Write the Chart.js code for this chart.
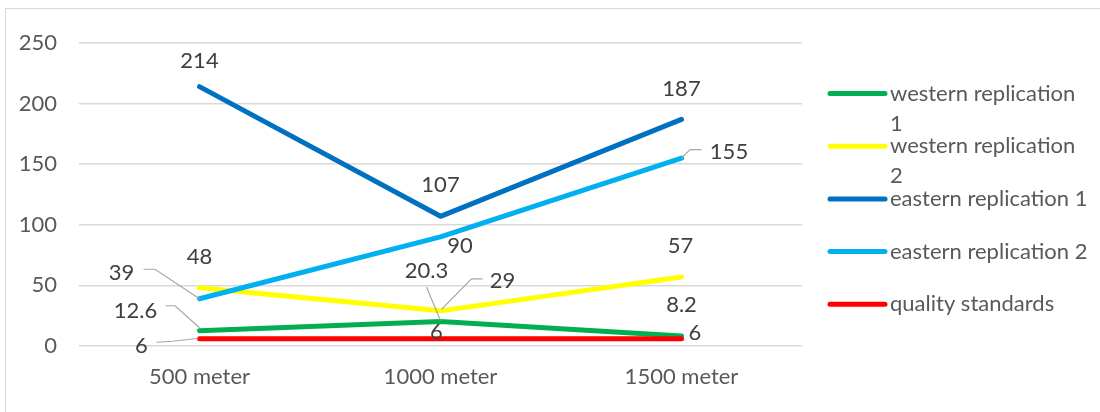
<!DOCTYPE html>
<html>
<head>
<meta charset="utf-8">
<title>Measurements by distance</title>
<script src="https://cdn.jsdelivr.net/npm/chart.js@4"></script>
<style>
  html, body { margin: 0; padding: 0; background: #ffffff; }
  #wrap { width: 1100px; height: 412px; }
</style>
</head>
<body>
<div id="wrap"><canvas id="chart" width="1100" height="412"></canvas></div>
<script>
// ---- data ----
const categories = ['500 meter', '1000 meter', '1500 meter'];
const seriesNames = [
  'western replication 1',
  'western replication 2',
  'eastern replication 1',
  'eastern replication 2',
  'quality standards'
];
const westernRep1 = [12.6, 20.3, 8.2];
const westernRep2 = [48, 29, 57];
const easternRep1 = [214, 107, 187];
const easternRep2 = [39, 90, 155];
const qualityStandards = [6, 6, 6];
const yTicks = [0, 50, 100, 150, 200, 250];

// ---- styling ----
const FONT = 'Lato, "Open Sans", "Liberation Sans", sans-serif';
const FONT_SIZE = 22;
const AXIS_TEXT = '#595959';
const LABEL_TEXT = '#404040';
const GRID = '#d9d9d9';
const LEADER = '#a6a6a6';
const seriesColors = ['#00b050', '#ffff00', '#0070c0', '#00b0f0', '#ff0000'];

// Data label placement per series/point: [dx, dy] from the point to the label
// centre, plus an optional leader polyline (offsets relative to the point).
const labelLayout = [
  [ { d: [-64, -21], leader: [[-34, -25], [-24.5, -25], [0, -3]] },
    { d: [-14, -51], leader: [[-14, -34.5], [0, -1]] },
    { d: [0, -32] } ],
  [ { d: [0, -32] },
    { d: [62, -31], leader: [[42, -32], [31, -32], [1, -1.5]] },
    { d: [-1, -31.5] } ],
  [ { d: [0, -27] },
    { d: [0, -32] },
    { d: [0, -31.5] } ],
  [ { d: [-78, -27], leader: [[-56, -29.5], [-44.5, -29.5], [0, 0]] },
    { d: [19.5, 8] },
    { d: [47.5, -7], leader: [[20, -8.5], [8.5, -8.5], [0, 0]] } ],
  [ { d: [-58, 6], leader: [[-43, 3.5], [-26.5, 2.5], [-1, -0.5]] },
    { d: [-4, -8] },
    { d: [13.5, -7] } ]
];

const seriesValues = [westernRep1, westernRep2, easternRep1, easternRep2, qualityStandards];

// Outer frame of the chart object
const framePlugin = {
  id: 'frame',
  beforeDraw(chart) {
    const ctx = chart.ctx;
    ctx.save();
    ctx.fillStyle = '#ffffff';
    ctx.fillRect(0, 0, chart.width, chart.height);
    ctx.strokeStyle = GRID;
    ctx.lineWidth = 1;
    ctx.strokeRect(5.5, 8.5, chart.width + 20, chart.height + 20);
    ctx.restore();
  }
};

// Value labels with leader lines
const valueLabelPlugin = {
  id: 'valueLabels',
  afterDatasetsDraw(chart) {
    const ctx = chart.ctx;
    ctx.save();
    ctx.font = FONT_SIZE + 'px ' + FONT;
    ctx.textAlign = 'center';
    ctx.textBaseline = 'alphabetic';
    chart.data.datasets.forEach((ds, i) => {
      const meta = chart.getDatasetMeta(i);
      meta.data.forEach((pt, j) => {
        const lay = labelLayout[i][j];
        if (lay.leader) {
          ctx.strokeStyle = LEADER;
          ctx.lineWidth = 1.2;
          ctx.beginPath();
          lay.leader.forEach((p, k) => {
            const px = pt.x + p[0], py = pt.y + p[1];
            if (k === 0) ctx.moveTo(px, py); else ctx.lineTo(px, py);
          });
          ctx.stroke();
        }
        ctx.fillStyle = LABEL_TEXT;
        ctx.fillText(String(ds.data[j]), pt.x + lay.d[0], pt.y + lay.d[1] + 8);
      });
    });
    ctx.restore();
  }
};

// Legend on the right, with word wrapping for long entries
const sideLegendPlugin = {
  id: 'sideLegend',
  afterDraw(chart) {
    const ctx = chart.ctx;
    const lineX0 = 830, lineX1 = 885, textX = 890;
    const firstY = 93.5, step = 52.7, lineH = 30;
    const maxW = 200;
    ctx.save();
    ctx.font = FONT_SIZE + 'px ' + FONT;
    ctx.textAlign = 'left';
    ctx.textBaseline = 'middle';
    chart.data.datasets.forEach((ds, i) => {
      const y = firstY + i * step;
      ctx.strokeStyle = ds.borderColor;
      ctx.lineWidth = 5;
      ctx.lineCap = 'round';
      ctx.beginPath();
      ctx.moveTo(lineX0, y);
      ctx.lineTo(lineX1, y);
      ctx.stroke();
      // wrap words
      const words = ds.label.split(' ');
      const lines = [];
      let cur = '';
      words.forEach(w => {
        const test = cur ? cur + ' ' + w : w;
        if (ctx.measureText(test).width > maxW && cur) {
          lines.push(cur);
          cur = w;
        } else {
          cur = test;
        }
      });
      if (cur) lines.push(cur);
      ctx.fillStyle = AXIS_TEXT;
      lines.forEach((t, k) => ctx.fillText(t, textX, y + k * lineH));
    });
    ctx.restore();
  }
};

const datasets = seriesNames.map((name, i) => ({
  label: name,
  data: seriesValues[i],
  borderColor: seriesColors[i],
  backgroundColor: seriesColors[i],
  borderWidth: 5,
  borderCapStyle: 'round',
  borderJoinStyle: 'round',
  pointRadius: 0,
  pointHoverRadius: 0,
  tension: 0,
  fill: false,
  order: seriesNames.length - i
}));

Chart.defaults.font.family = FONT;
Chart.defaults.font.size = FONT_SIZE;

new Chart(document.getElementById('chart'), {
  type: 'line',
  data: { labels: categories, datasets },
  options: {
    responsive: false,
    animation: false,
    layout: { padding: { left: 0, top: 43, right: 298, bottom: 0 } },
    plugins: {
      legend: { display: false },
      tooltip: { enabled: false }
    },
    scales: {
      x: {
        offset: true,
        grid: { display: false, drawTicks: false },
        border: { display: false },
        ticks: { color: AXIS_TEXT, padding: 18, font: { size: FONT_SIZE } },
        afterFit(scale) { scale.height = 66; }
      },
      y: {
        min: yTicks[0],
        max: yTicks[yTicks.length - 1],
        afterBuildTicks(scale) { scale.ticks = yTicks.map(v => ({ value: v })); },
        grid: { color: GRID, lineWidth: 1.5, drawTicks: false },
        border: { display: false },
        ticks: { color: AXIS_TEXT, padding: 22, font: { size: FONT_SIZE } },
        afterFit(scale) { scale.width = 79; }
      }
    }
  },
  plugins: [framePlugin, valueLabelPlugin, sideLegendPlugin]
});
</script>
</body>
</html>
